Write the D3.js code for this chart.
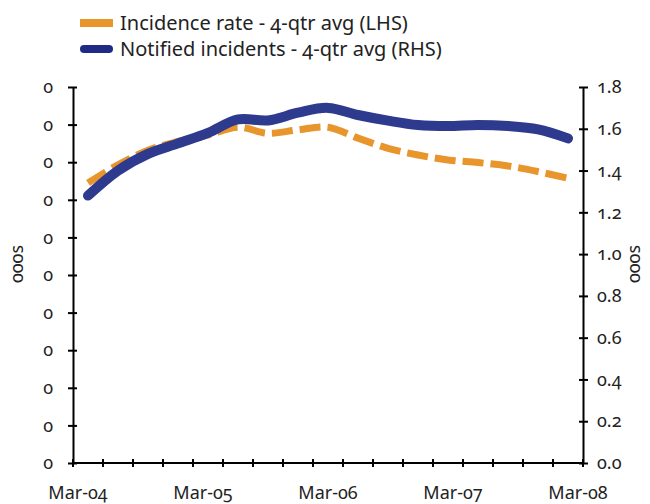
<!DOCTYPE html>
<html lang="en">
<head>
  <meta charset="UTF-8">
  <script src="https://d3js.org/d3.v7.min.js"></script>
  <style>
body { margin: 0; background: #fff; }
svg text { font-family: "Noto Sans", sans-serif; font-variant-numeric: oldstyle-nums; font-feature-settings: "onum"; fill: #222; }
.axis path, .axis line { stroke: #000; stroke-width: 2px; }
.axis text { font-size: 18px; }
.xlab { font-size: 20px; }
.legend text { font-size: 20px; }
.unit { font-size: 18px; }
</style>
</head>
<body>
<svg width="650" height="504"></svg>
<script>
// quarterly, Mar-04 .. Mar-08
const quarters = ["Mar-04","Jun-04","Sep-04","Dec-04","Mar-05","Jun-05","Sep-05","Dec-05",
  "Mar-06","Jun-06","Sep-06","Dec-06","Mar-07","Jun-07","Sep-07","Dec-07","Mar-08"];
const xLabels = ["Mar-04","Mar-05","Mar-06","Mar-07","Mar-08"];
// incidence rate, 4-qtr avg (LHS)
const incidence = [7.45, 7.93, 8.32, 8.55, 8.72, 8.93, 8.77, 8.86, 8.93, 8.64, 8.37, 8.19, 8.06, 7.99, 7.90, 7.75, 7.57];
// notified incidents, 4-qtr avg (RHS, 000s)
const notified = [1.28, 1.40, 1.48, 1.53, 1.58, 1.645, 1.64, 1.677, 1.70, 1.666, 1.639, 1.618, 1.613, 1.618, 1.613, 1.597, 1.554];
const leftTicks = [0,1,2,3,4,5,6,7,8,9,10];
const leftTickLabels = ["0","0","0","0","0","0","0","0","0","0","0"];
const rightTicks = [0,0.2,0.4,0.6,0.8,1.0,1.2,1.4,1.6,1.8];

const svg = d3.select("svg");
const m = {left: 73, right: 67, top: 87, bottom: 41};
const W = 650, H = 504;

const x = d3.scaleBand().domain(quarters).range([m.left, W - m.right]);
const xc = d => x(d) + x.bandwidth() / 2;
const yL = d3.scaleLinear().domain([0, 10]).range([H - m.bottom, m.top]);
const yR = d3.scaleLinear().domain([0, 1.8]).range([H - m.bottom, m.top]);

// lines
const lineL = d3.line().x((d, i) => xc(quarters[i])).y(d => yL(d)).curve(d3.curveCatmullRom.alpha(0.5));
const lineR = d3.line().x((d, i) => xc(quarters[i])).y(d => yR(d)).curve(d3.curveCatmullRom.alpha(0.5));

svg.append("path").datum(incidence)
  .attr("d", lineL).attr("fill", "none")
  .attr("stroke", "#e8952c").attr("stroke-width", 7)
  .attr("stroke-dasharray", "21 7");

svg.append("path").datum(notified)
  .attr("d", lineR).attr("fill", "none")
  .attr("stroke", "#2e3a8e").attr("stroke-width", 10)
  .attr("stroke-linecap", "round").attr("stroke-linejoin", "round");

// axes
const gL = svg.append("g").attr("class", "axis")
  .attr("transform", `translate(${m.left},0)`)
  .call(d3.axisLeft(yL).tickValues(leftTicks).tickFormat((d, i) => leftTickLabels[i])
    .tickSizeInner(5).tickSizeOuter(0).tickPadding(15));
gL.attr("font-family", null);
gL.selectAll(".tick line").attr("x1", 4);

const gR = svg.append("g").attr("class", "axis")
  .attr("transform", `translate(${W - m.right},0)`)
  .call(d3.axisRight(yR).tickValues(rightTicks).tickFormat(d3.format(".1f"))
    .tickSizeInner(5).tickSizeOuter(0).tickPadding(9));
gR.attr("font-family", null);
gR.selectAll(".tick line").attr("x1", -4);

// bottom axis: ticks at category boundaries, labels every 4th quarter
const edges = quarters.map(q => x(q)).concat([W - m.right]);
const gB = svg.append("g").attr("class", "axis")
  .attr("transform", `translate(0,${H - m.bottom})`);
gB.append("line").attr("x1", m.left).attr("x2", W - m.right);
gB.selectAll(".tk").data(edges).join("line").attr("class", "tk")
  .attr("x1", d => d).attr("x2", d => d).attr("y1", -4).attr("y2", 4);
const labelX = d3.scaleLinear().domain([0, xLabels.length - 1])
  .range([xc(quarters[0]) - 10, xc(quarters[quarters.length - 1]) + 10]);
gB.selectAll("text").data(xLabels).join("text").attr("class", "xlab")
  .attr("x", (d, i) => labelX(i)).attr("y", 36)
  .attr("text-anchor", "middle").text(d => d);

// unit labels
svg.append("text").attr("class", "unit")
  .attr("transform", "translate(23,264) rotate(-90)")
  .attr("text-anchor", "middle").text("000s");
svg.append("text").attr("class", "unit")
  .attr("transform", "translate(640,264) rotate(-90)")
  .attr("text-anchor", "middle").text("000s");

// legend
const legend = svg.append("g").attr("class", "legend");
legend.append("rect").attr("x", 80).attr("y", 19).attr("width", 33).attr("height", 8).attr("fill", "#e8952c");
legend.append("text").attr("x", 120).attr("y", 30).text("Incidence rate - 4-qtr avg (LHS)");
legend.append("line").attr("x1", 84).attr("x2", 109).attr("y1", 49).attr("y2", 49)
  .attr("stroke", "#1f2a85").attr("stroke-width", 8).attr("stroke-linecap", "round");
legend.append("text").attr("x", 120).attr("y", 56).text("Notified incidents - 4-qtr avg (RHS)");
</script>
</body>
</html>
